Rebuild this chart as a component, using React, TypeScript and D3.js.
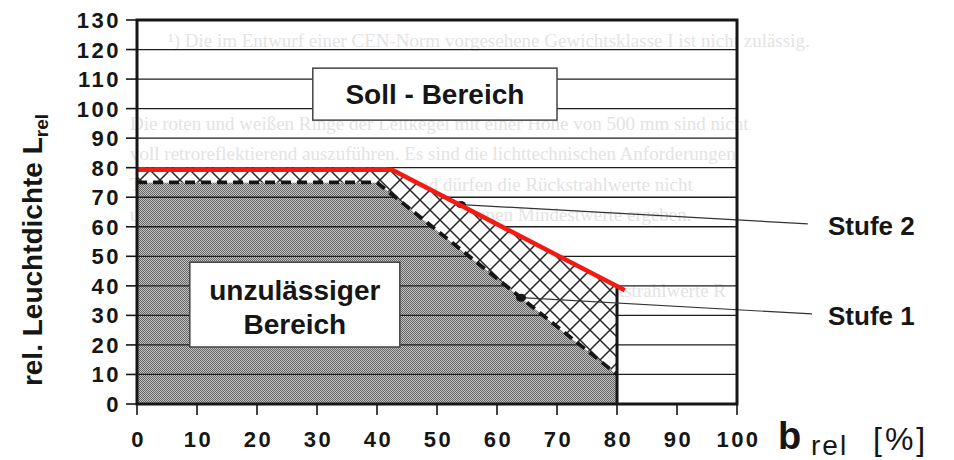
import * as React from 'react';
import * as d3 from 'd3';

const dimensions = { width: 954, height: 460 };
const plot = { left: 137, right: 737, top: 20, bottom: 404 };

// axis ticks
const xTicks = [0, 10, 20, 30, 40, 50, 60, 70, 80, 90, 100];
const yTicks = [0, 10, 20, 30, 40, 50, 60, 70, 80, 90, 100, 110, 120, 130];

// regions, [b_rel, L_rel]
const unzulaessig: [number, number][] = [[0, 0], [0, 75], [40, 75], [80, 10], [80, 0]];
const stufe1: [number, number][] = [[0, 75], [40, 75], [80, 10]];
const stufe2Band: [number, number][] = [[0, 80], [42, 80], [80, 40], [80, 10], [40, 75], [0, 75]];
const stufe2Edge: [number, number][] = [[80, 40], [80, 0]];
const redLine: [number, number][] = [[0, 79.3], [42.5, 79.3], [81.3, 38.5]];

// leader lines from curve to label
const leader2: [number, number][] = [[54, 67.5], [111.8, 61]];
const leader1: [number, number][] = [[64, 36], [112.5, 30.5]];

// label boxes [x0, x1, y0, y1] in data units
const sollBox = [29.3, 70, 96.1, 113.7];
const unzBox = [8.8, 43.8, 19.3, 48];

// faint text bleeding through the scanned page
const ghostLines = [
  { t: '¹) Die im Entwurf einer CEN-Norm vorgesehene Gewichtsklasse I ist nicht zulässig.', x: 168, y: 47 },
  { t: 'Die roten und weißen Ringe der Leitkegel mit einer Höhe von 500 mm sind nicht', x: 130, y: 130 },
  { t: 'voll retroreflektierend auszuführen. Es sind die lichttechnischen Anforderungen', x: 130, y: 160 },
  { t: 'Tabelle 2 zu erfüllen. Im nassen Zustand dürfen die Rückstrahlwerte nicht', x: 130, y: 191 },
  { t: 'unterschreiten, die sich aus 50 % der angegebenen Mindestwerte ergeben.', x: 130, y: 221 },
  { t: 'Mindestwerte für die Rückstrahlwerte R', x: 420, y: 297 },
  { t: 'Beobachtungswinkel α', x: 440, y: 373 },
];

const App: React.FC = () => {
  const x = d3.scaleLinear([0, 100], [plot.left, plot.right]);
  const y = d3.scaleLinear([0, 130], [plot.bottom, plot.top]);
  const line = d3.line<[number, number]>((d) => x(d[0]), (d) => y(d[1]));

  const font = "'Liberation Sans', Arial, Helvetica, sans-serif";
  const ink = '#161616';

  const box = (b: number[]) => ({
    x: x(b[0]),
    y: y(b[3]),
    width: x(b[1]) - x(b[0]),
    height: y(b[2]) - y(b[3]),
  });
  const sb = box(sollBox);
  const ub = box(unzBox);

  return (
    <svg
      width={dimensions.width}
      height={dimensions.height}
      viewBox={`0 0 ${dimensions.width} ${dimensions.height}`}
      style={{ position: 'absolute', left: 0, top: 0, background: '#fff' }}
    >
      <defs>
        <pattern id="dots" width="2" height="2" patternUnits="userSpaceOnUse">
          <rect width="2" height="2" fill="#c2c2c2" />
          <rect width="1" height="1" fill="#666" />
          <rect x="1" y="1" width="1" height="1" fill="#666" />
        </pattern>
        <pattern id="hatch" width="20" height="20" patternUnits="userSpaceOnUse">
          <rect width="20" height="20" fill="#fdfdfd" />
          <path d="M-1,-1 L21,21 M21,-1 L-1,21" stroke="#262626" strokeWidth="1.5" />
        </pattern>
      </defs>

      <rect width={dimensions.width} height={dimensions.height} fill="#fff" />

      {/* show-through from reverse page */}
      <g fontFamily="'Liberation Serif', 'DejaVu Serif', serif" fontSize="19" fill="#e3e3e3">
        {ghostLines.map((g) => (
          <text key={g.t} x={g.x} y={g.y}>{g.t}</text>
        ))}
      </g>

      <path d={line(unzulaessig) ?? ''} fill="url(#dots)" />

      {/* grid */}
      <g stroke="#1e1e1e" strokeWidth={1.3}>
        {yTicks.slice(1, -1).map((t) => (
          <line key={t} x1={plot.left} x2={plot.right} y1={y(t)} y2={y(t)} />
        ))}
      </g>

      <path d={line(stufe2Band) + 'Z'} fill="url(#hatch)" />
      <path d={line(stufe2Edge) ?? ''} fill="none" stroke={ink} strokeWidth={3} />
      <path
        d={line(stufe1) ?? ''}
        fill="none"
        stroke={ink}
        strokeWidth={3.8}
        strokeDasharray="10 6"
      />

      {/* leader lines */}
      <g stroke="#333" strokeWidth={1.2}>
        <path d={line(leader2) ?? ''} fill="none" />
        <path d={line(leader1) ?? ''} fill="none" />
      </g>
      <ellipse cx={x(leader2[0][0])} cy={y(leader2[0][1])} rx={5} ry={3.5} fill={ink} />
      <ellipse cx={x(leader1[0][0])} cy={y(leader1[0][1])} rx={5} ry={4} fill={ink} />

      <path d={line(redLine) ?? ''} fill="none" stroke="#f21a12" strokeWidth={4.5} />

      {/* label boxes */}
      <rect {...sb} fill="#fff" stroke="#444" strokeWidth={1.5} />
      <text
        x={sb.x + sb.width / 2}
        y={sb.y + sb.height / 2 + 10}
        textAnchor="middle"
        fontFamily={font}
        fontWeight="bold"
        fontSize={28}
        fill={ink}
      >
        Soll - Bereich
      </text>
      <rect {...ub} fill="#fff" stroke="#444" strokeWidth={1.5} />
      <text
        x={ub.x + ub.width / 2}
        textAnchor="middle"
        fontFamily={font}
        fontWeight="bold"
        fontSize={28}
        fill={ink}
      >
        <tspan x={ub.x + ub.width / 2} y={ub.y + 38}>unzulässiger</tspan>
        <tspan x={ub.x + ub.width / 2} y={ub.y + 72}>Bereich</tspan>
      </text>

      {/* frame */}
      <rect
        x={plot.left}
        y={plot.top}
        width={plot.right - plot.left}
        height={plot.bottom - plot.top}
        fill="none"
        stroke={ink}
        strokeWidth={3}
      />

      {/* axes */}
      <g stroke={ink} strokeWidth={1.6}>
        {yTicks.map((t) => (
          <line key={t} x1={plot.left - 11} x2={plot.left} y1={y(t)} y2={y(t)} />
        ))}
        {xTicks.map((t) => (
          <line key={t} x1={x(t)} x2={x(t)} y1={plot.bottom} y2={plot.bottom + 11} />
        ))}
      </g>
      <g fontFamily={font} fontWeight="bold" fontSize={22} fill={ink} letterSpacing="2.5">
        {yTicks.map((t) => (
          <text key={t} x={plot.left - 16} y={y(t) + 8} textAnchor="end">
            {t}
          </text>
        ))}
        {xTicks.map((t) => (
          <text key={t} x={x(t) + 1.5} y={447} textAnchor="middle">
            {t}
          </text>
        ))}
      </g>

      {/* axis titles */}
      <text
        transform={`translate(42, 250) rotate(-90)`}
        textAnchor="middle"
        fontFamily={font}
        fontWeight="bold"
        fontSize={28}
        fill={ink}
      >
        rel. Leuchtdichte L
        <tspan fontSize={19} dy={6}>rel</tspan>
      </text>
      <g fontFamily={font} fill={ink}>
        <text x={778} y={449} fontWeight="bold" fontSize={38}>b</text>
        <text x={811} y={455} fontSize={28} letterSpacing="2">rel</text>
        <text x={873} y={450} fontSize={32} letterSpacing="3">[%]</text>
      </g>

      {/* series labels */}
      <g fontFamily={font} fontWeight="bold" fontSize={26} fill={ink}>
        <text x={828} y={235}>Stufe 2</text>
        <text x={828} y={325}>Stufe 1</text>
      </g>
    </svg>
  );
};

export default App;
